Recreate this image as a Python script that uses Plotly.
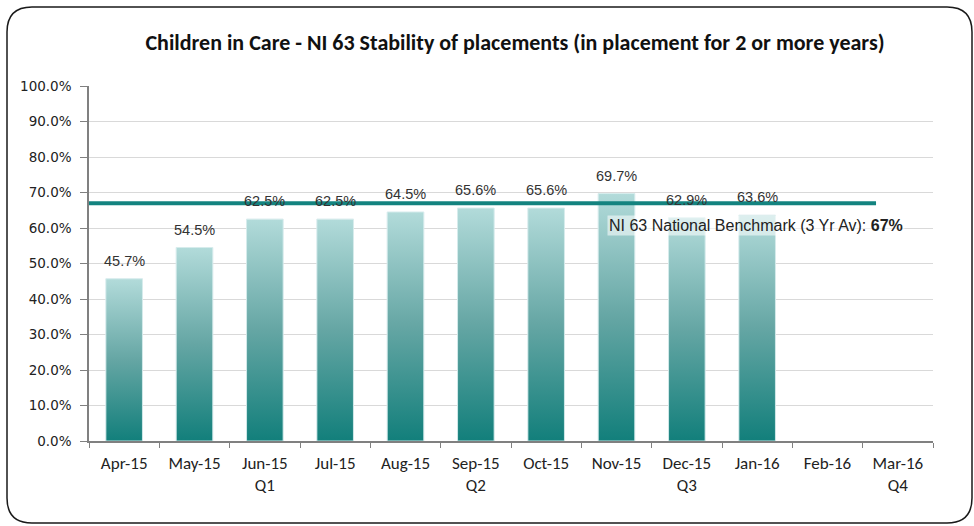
import plotly.graph_objects as go

months = ["Apr-15", "May-15", "Jun-15", "Jul-15", "Aug-15", "Sep-15",
          "Oct-15", "Nov-15", "Dec-15", "Jan-16", "Feb-16", "Mar-16"]
quarters = ["", "", "Q1", "", "", "Q2", "", "", "Q3", "", "", "Q4"]
values = [0.457, 0.545, 0.625, 0.625, 0.645, 0.656, 0.656, 0.697, 0.629, 0.636, None, None]
value_labels = ["45.7%", "54.5%", "62.5%", "62.5%", "64.5%", "65.6%", "65.6%",
                "69.7%", "62.9%", "63.6%", "", ""]
benchmark = 0.67
benchmark_label = "NI 63 National Benchmark (3 Yr Av): <b>67%</b>"
title = "Children in Care - NI 63 Stability of placements (in placement for 2 or more years)"

W, H = 974, 526
L, R, T, B = 89, 41, 86, 85
pw, ph = W - L - R, H - T - B

x_idx = list(range(len(months)))
ticktext = [m + ("<br>" + q if q else "<br> ") for m, q in zip(months, quarters)]
half = 0.26

fig = go.Figure()

# gradient bars
for i, v in zip(x_idx, values):
    if v is None:
        continue
    fig.add_trace(go.Scatter(
        x=[i - half, i - half, i + half, i + half, i - half],
        y=[0, v, v, 0, 0],
        mode="lines", fill="toself",
        line=dict(color="rgba(215,236,236,0.9)", width=1),
        fillgradient=dict(type="vertical",
                          colorscale=[[0, "#127f7b"], [0.5, "#65a6a4"], [1, "#b2dbda"]],
                          start=0, stop=v),
        hoverinfo="skip", showlegend=False,
    ))

# bar trace carrying data (transparent), for hover
fig.add_trace(go.Bar(
    x=x_idx, y=values, width=2 * half,
    marker=dict(color="rgba(0,0,0,0)"),
    showlegend=False, hovertemplate="%{y:.1%}<extra></extra>",
))

for i, v, t in zip(x_idx, values, value_labels):
    if v is None:
        continue
    fig.add_annotation(x=i, y=v, text=t, showarrow=False, yanchor="bottom", yshift=8,
                       font=dict(family="Liberation Sans, Arial", size=14.5, color="#333333"))

# benchmark line
fig.add_shape(type="line", xref="x", yref="y", x0=-0.5, x1=10.69, y0=benchmark, y1=benchmark,
              line=dict(color="#13837f", width=4), layer="above")

fig.add_annotation(x=11.1, y=benchmark, xanchor="right", yanchor="top", yshift=-12,
                   text=benchmark_label, showarrow=False,
                   bgcolor="rgba(255,255,255,0.55)", borderpad=1,
                   font=dict(family="Liberation Sans, Arial", size=16, color="#222222"))

# rounded chart border (in paper coords)
def px(xp):
    return (xp - L) / pw

def py(yp):
    return (H - B - yp) / ph

x0, y0, x1, y1, r = 7, 7, 972, 523, 25
path = (f"M {px(x0 + r)},{py(y0)} L {px(x1 - r)},{py(y0)} "
        f"Q {px(x1)},{py(y0)} {px(x1)},{py(y0 + r)} "
        f"L {px(x1)},{py(y1 - r)} Q {px(x1)},{py(y1)} {px(x1 - r)},{py(y1)} "
        f"L {px(x0 + r)},{py(y1)} Q {px(x0)},{py(y1)} {px(x0)},{py(y1 - r)} "
        f"L {px(x0)},{py(y0 + r)} Q {px(x0)},{py(y0)} {px(x0 + r)},{py(y0)} Z")
fig.add_shape(type="path", xref="paper", yref="paper", path=path,
              line=dict(color="#1a1a1a", width=1.5), layer="below")

fig.update_layout(
    width=W, height=H,
    margin=dict(l=L, r=R, t=T, b=B),
    paper_bgcolor="white", plot_bgcolor="white",
    title=dict(text=f"<b>{title}</b>", x=515 / W, xanchor="center", y=1 - 42 / H,
               yanchor="middle", xref="container", yref="container",
               font=dict(family="Carlito, Lato, Calibri", size=22, color="#111111")),
    xaxis=dict(range=[-0.5, 11.5], tickvals=x_idx, ticktext=ticktext, ticks="",
               ticklabelstandoff=6,
               showgrid=False, zeroline=False, showline=True, linecolor="#808080", linewidth=1.5,
               tickfont=dict(family="Carlito, Lato, Calibri", size=17, color="#222222"),
               minor=dict(tickvals=[i - 0.5 for i in range(len(months) + 1)], ticks="outside",
                          ticklen=5, tickcolor="#808080", showgrid=False),
               fixedrange=True),
    yaxis=dict(range=[0, 1.0], dtick=0.1, tickformat=".1%", ticks="outside", ticklen=7,
               ticklabelstandoff=6,
               tickcolor="#808080", showline=True, linecolor="#808080", linewidth=1.5,
               gridcolor="#d9d9d9", gridwidth=1, zeroline=False,
               tickfont=dict(family="DejaVu Sans, Tahoma", size=13.5, color="#222222"),
               fixedrange=True),
)

fig.write_html("out.html", config={"displayModeBar": False},
               post_script="document.body.style.margin='0';document.body.style.overflow='hidden';")
